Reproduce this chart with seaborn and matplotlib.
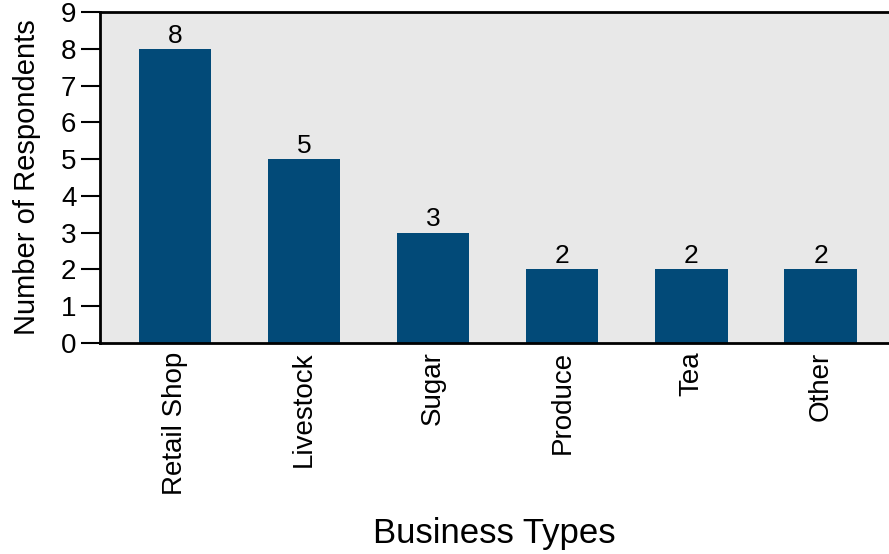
import pandas as pd
import seaborn as sns
import matplotlib.pyplot as plt

# Data
categories = ['Retail Shop', 'Livestock', 'Sugar', 'Produce', 'Tea', 'Other']
counts = [8, 5, 3, 2, 2, 2]

df = pd.DataFrame({'Business Type': categories, 'Respondents': counts})

sns.set_style('white')
plt.rcParams['font.family'] = ['Liberation Sans', 'DejaVu Sans']
plt.rcParams['text.color'] = 'black'
plt.rcParams['axes.labelcolor'] = 'black'
plt.rcParams['xtick.color'] = 'black'
plt.rcParams['ytick.color'] = 'black'

fig = plt.figure(figsize=(8.89, 5.54), dpi=100)
ax = fig.add_axes([0.1125, 0.381, 0.8875, 0.597])
ax.set_facecolor('#e8e8e8')

sns.barplot(data=df, x='Business Type', y='Respondents', color='#024a78',
            saturation=1, width=0.56, linewidth=0, edgecolor='none', ax=ax)

# value labels on top of bars
for cont in ax.containers:
    ax.bar_label(cont, labels=[str(v) for v in counts], padding=1,
                 fontsize=19, color='black')

ax.set_ylim(0, 9)
ax.set_xlim(-0.58, 5.53)
ax.set_yticks(range(10))

ax.set_xlabel('Business Types', fontsize=25, labelpad=16)
ax.set_ylabel('Number of Respondents', fontsize=21, labelpad=14)
ax.tick_params(axis='x', rotation=90, labelsize=20, length=0, pad=6)
ax.tick_params(axis='y', labelsize=20, length=14, width=1.5, direction='out',
               left=True, pad=3)

for side in ['left', 'bottom', 'top']:
    ax.spines[side].set_visible(True)
    ax.spines[side].set_color('black')
    ax.spines[side].set_linewidth(2)
ax.spines['right'].set_visible(False)

fig.savefig('out.png', dpi=100)
